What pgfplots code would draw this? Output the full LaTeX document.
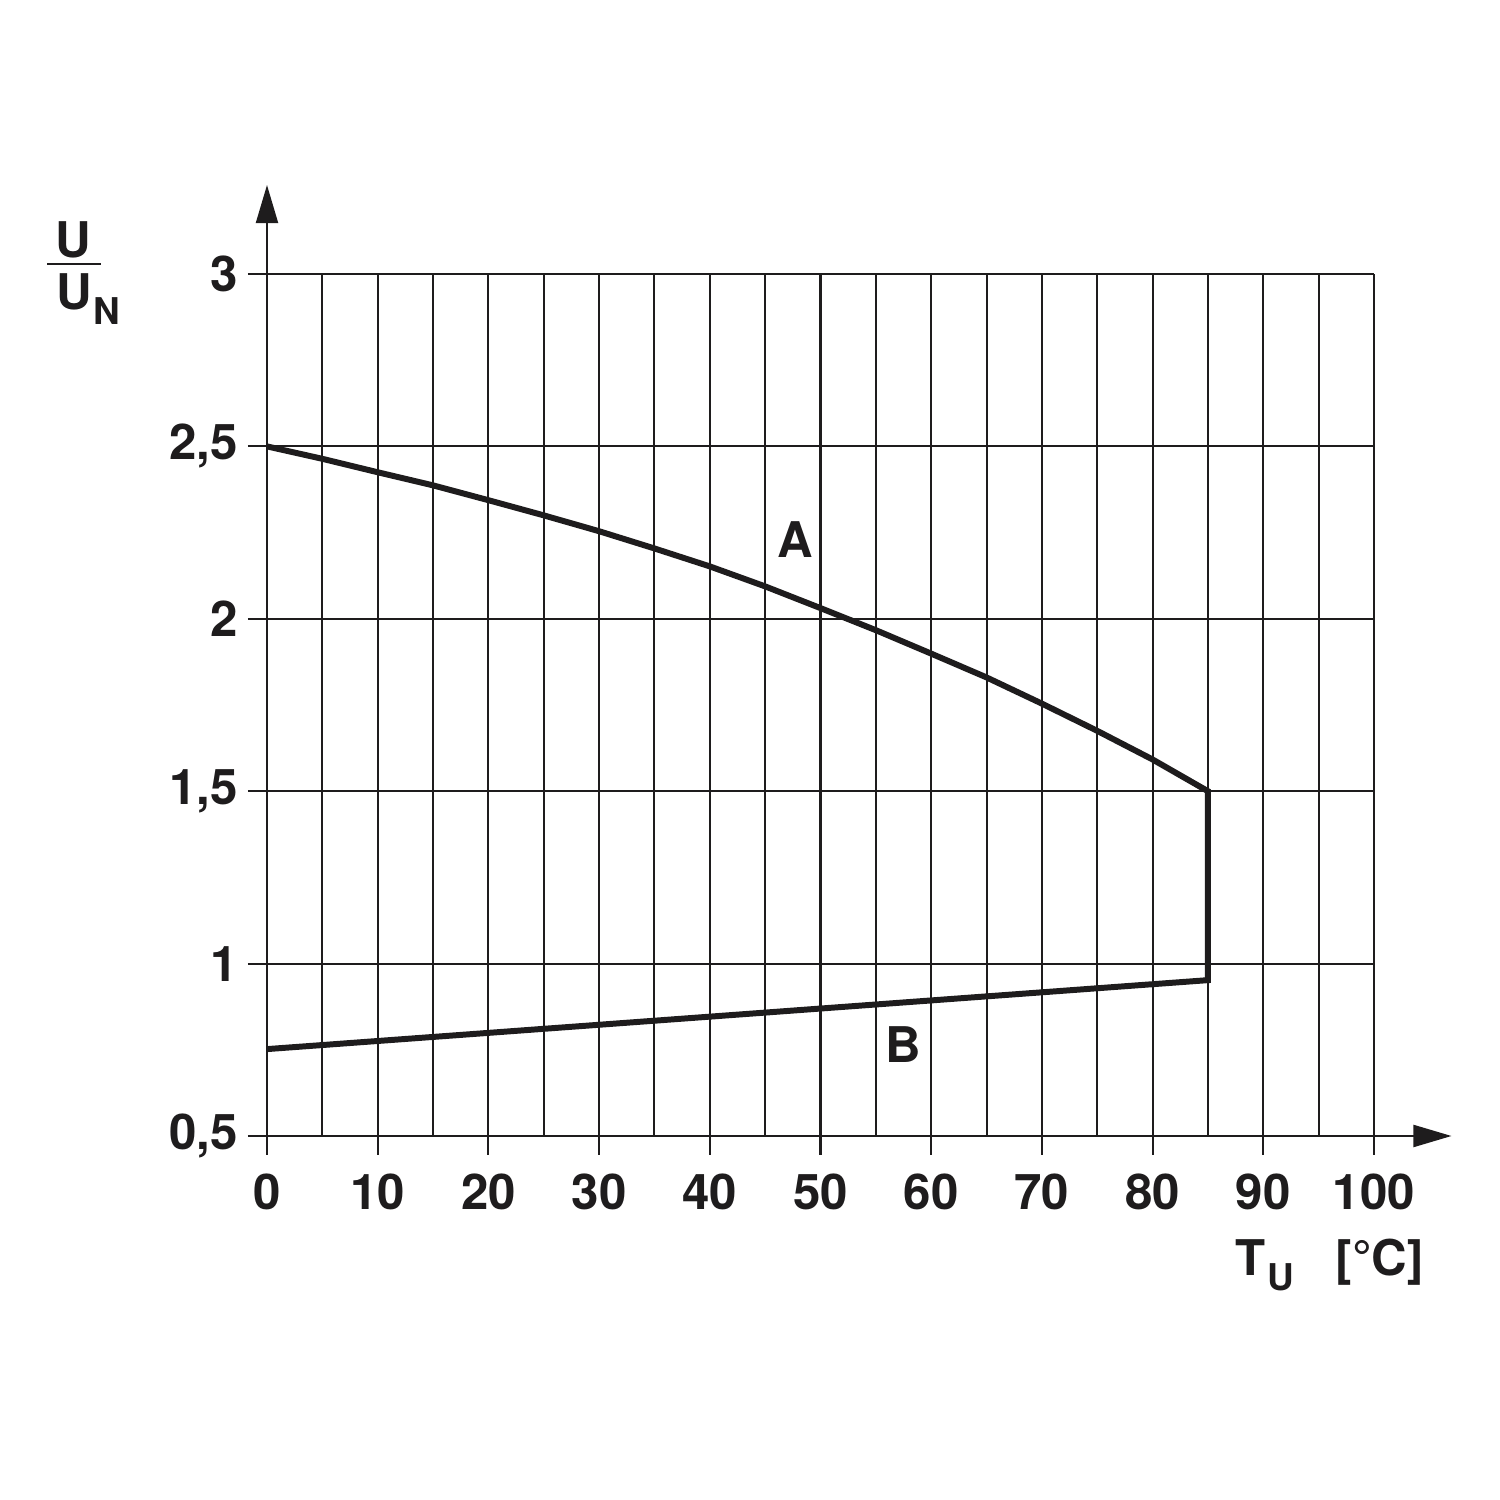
\documentclass[border=0pt]{standalone}
\usepackage{fontspec}
\setmainfont{TeX Gyre Heros}
\usepackage{pgfplots}
\pgfplotsset{compat=1.18}
\usetikzlibrary{arrows.meta}
\definecolor{ink}{RGB}{30,28,29}
\begin{document}
\begin{tikzpicture}[x=1cm,y=1cm]
\path[use as bounding box] (0,0) rectangle (15,15);
\begin{axis}[
  at={(2.67cm,3.64cm)}, anchor=south west,
  scale only axis, width=11.07cm, height=8.62cm,
  xmin=0, xmax=100, ymin=0.5, ymax=3,
  xtick={0,10,...,100}, xticklabels={0,10,20,30,40,50,60,70,80,90,100},
  minor xtick={5,15,...,95},
  ytick={0.5,1,1.5,2,2.5,3}, yticklabels={{0,5},1,{1,5},2,{2,5},3},
  grid=both,
  major grid style={ink, line width=0.58pt},
  minor grid style={ink, line width=0.58pt},
  axis line style={draw=none},
  tick align=outside,
  xtick pos=bottom, ytick pos=left,
  major tick length=0.19cm,
  minor tick length=0pt,
  tick style={ink, line width=0.58pt},
  ticklabel style={font=\fontsize{14}{16}\selectfont\bfseries, text=ink},
  xticklabel style={yshift=-0.06cm},
  yticklabel style={xshift=0.02cm},
  clip=false,
]
\addplot[ink, line width=1.7pt, line join=miter, mark=none] coordinates {
  (0,2.500) (5,2.464) (10,2.425) (15,2.387) (20,2.344) (25,2.300)
  (30,2.254) (35,2.204) (40,2.152) (45,2.094) (50,2.031) (55,1.967)
  (60,1.899) (65,1.830) (70,1.754) (75,1.675) (80,1.592) (85,1.500)
  (85,0.952) (0,0.752)
};
\draw[ink, line width=0.58pt, -{Triangle[length=0.38cm,width=0.22cm]}] (axis cs:0,0.5) -- (axis cs:0,3.258);
\draw[ink, line width=0.58pt, -{Triangle[length=0.38cm,width=0.22cm]}] (axis cs:0,0.5) -- (axis cs:107,0.5);
\node[font=\fontsize{14}{16}\selectfont\bfseries, text=ink] at (axis cs:47.7,2.229) {A};
\node[font=\fontsize{14}{16}\selectfont\bfseries, text=ink] at (axis cs:57.5,0.764) {B};
\end{axis}
% y label: U / U_N
\begin{scope}[every node/.style={inner sep=0pt, text=ink, font=\fontsize{14}{16}\selectfont\bfseries}]
\node[anchor=base] at (0.73,12.42) {U};
\draw[ink, line width=0.85pt] (0.47,12.36) -- (1.01,12.36);
\node[anchor=base west] at (0.56,11.90) {U};
\node[anchor=base west, font=\fontsize{10.5}{12}\selectfont\bfseries] at (0.93,11.75) {N};
% x label: T_U [°C]
\node[anchor=base west] at (12.35,2.25) {T};
\node[anchor=base west, font=\fontsize{10.5}{12}\selectfont\bfseries] at (12.67,2.10) {U};
\node[anchor=base west] at (13.35,2.25) {[°C]};
\end{scope}
\end{tikzpicture}
\end{document}
